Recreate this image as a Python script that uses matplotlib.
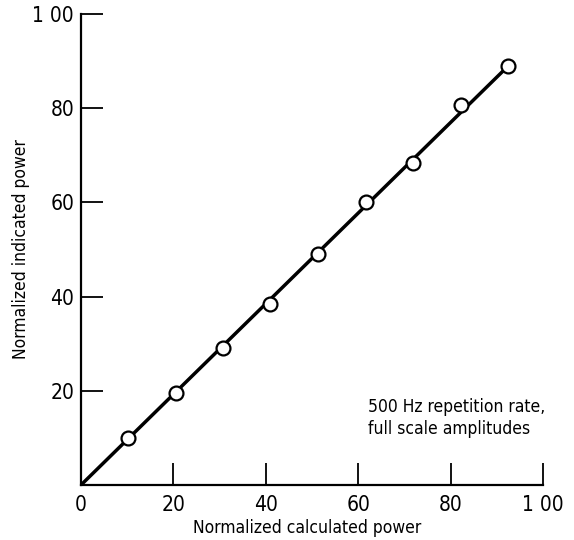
import matplotlib
matplotlib.use('Agg')
import matplotlib.pyplot as plt

plt.rcParams['font.family'] = ['DejaVu Sans']
plt.rcParams['font.stretch'] = 'condensed'

# valores
calc_power = [10.1, 20.5, 30.8, 40.9, 51.4, 61.7, 71.9, 82.3, 92.5]
ind_power = [10.0, 19.6, 29.1, 38.5, 49.0, 60.0, 68.3, 80.6, 89.0]
tick_vals = [0, 20, 40, 60, 80, 100]
x_tick_labels = ['0', '20', '40', '60', '80', '1 00']
y_tick_labels = ['', '20', '40', '60', '80', '1 00']

fig = plt.figure(figsize=(5.74, 5.40), dpi=100)
ax = fig.add_axes([81 / 574, 1 - 485 / 540, 462 / 574, 471 / 540])

# reta ajustada passando pela origem
ax.plot([0, calc_power[-1]], [0, ind_power[-1]], color='black', lw=2.5, zorder=2)
ax.plot(calc_power, ind_power, 'o', ms=10, mfc='white', mec='black', mew=1.6, zorder=3)

ax.set_xlim(0, 100)
ax.set_ylim(0, 100)
ax.spines['top'].set_visible(False)
ax.spines['right'].set_visible(False)
for s in ['left', 'bottom']:
    ax.spines[s].set_linewidth(1.6)

ax.set_xticks(tick_vals)
ax.set_xticklabels(x_tick_labels)
ax.set_yticks(tick_vals)
ax.set_yticklabels(y_tick_labels)
ax.tick_params(axis='both', direction='in', length=16, width=1.3, labelsize=15, pad=5)
ax.tick_params(axis='x', pad=7)
ax.xaxis.get_major_ticks()[0].tick1line.set_visible(False)
ax.yaxis.get_major_ticks()[0].tick1line.set_visible(False)

ax.set_xlabel('Normalized calculated power', fontsize=12.5)
ax.xaxis.set_label_coords(0.49, -0.072)
ax.set_ylabel('Normalized indicated power', fontsize=12.5)
ax.yaxis.set_label_coords(-0.11, 0.50)

ax.text(62.1, 18.5, '500 Hz repetition rate,\nfull scale amplitudes', fontsize=12.5,
        ha='left', va='top', linespacing=1.3)

fig.savefig('out.png', dpi=100)
